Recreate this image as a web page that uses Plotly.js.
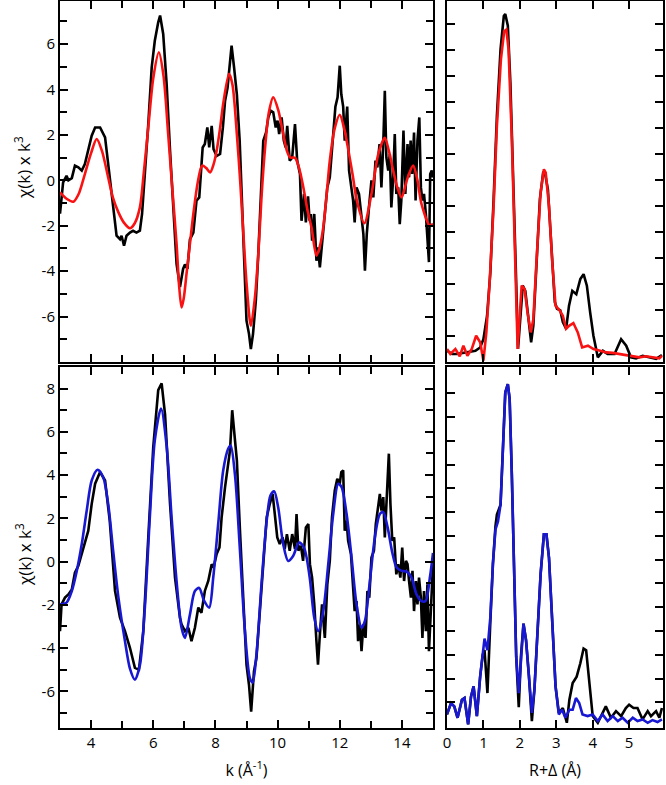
<!DOCTYPE html>
<html>
<head>
<meta charset="utf-8">
<script src="https://cdn.plot.ly/plotly-3.0.1.min.js"></script>
<style>html,body{margin:0;padding:0;background:#fff;}#chart{width:666px;height:785px;}</style>
</head>
<body>
<div id="chart"></div>
<script>
// ---------- Data: k-space, top panel (experiment = black, fit = red) ----------
const kTopExp = [3.0,3.05,3.1,3.21,3.27,3.38,3.48,3.59,3.7,3.8,3.91,4.02,4.13,4.29,4.45,4.6,4.71,4.82,4.93,4.98,5.06,5.14,5.25,5.35,5.46,5.57,5.64,5.73,5.84,5.95,6.05,6.16,6.22,6.32,6.43,6.54,6.65,6.75,6.86,6.96,7.02,7.1,7.18,7.29,7.39,7.48,7.59,7.66,7.74,7.8,7.88,7.94,8.04,8.15,8.24,8.31,8.39,8.47,8.52,8.6,8.69,8.78,8.85,8.93,9.0,9.08,9.14,9.21,9.3,9.38,9.45,9.54,9.63,9.7,9.78,9.86,9.94,10.0,10.05,10.13,10.2,10.26,10.31,10.39,10.47,10.56,10.63,10.72,10.77,10.85,10.91,10.98,11.03,11.07,11.11,11.18,11.25,11.3,11.36,11.43,11.52,11.6,11.68,11.73,11.82,11.86,11.93,12.0,12.05,12.11,12.16,12.24,12.3,12.38,12.43,12.48,12.54,12.62,12.7,12.76,12.81,12.87,12.94,13.02,13.08,13.15,13.21,13.28,13.34,13.4,13.45,13.5,13.56,13.61,13.66,13.72,13.77,13.82,13.88,13.93,13.98,14.05,14.11,14.18,14.23,14.28,14.33,14.39,14.44,14.5,14.56,14.61,14.66,14.71,14.77,14.82,14.87,14.91,14.96,15.0];
const chiTopExp = [-1.47,-0.6,-0.09,0.2,0.0,0.1,0.65,0.57,0.43,0.72,1.31,1.97,2.33,2.33,1.89,0.13,-1.19,-2.44,-2.59,-2.44,-2.88,-2.44,-2.3,-2.22,-2.3,-2.22,-1.48,0.13,2.48,4.98,6.15,6.96,7.26,6.45,4.25,1.31,-1.63,-3.68,-4.7,-3.9,-3.7,-3.9,-2.6,-2.3,-0.9,-0.75,1.45,1.6,2.33,1.45,2.4,1.37,1.08,1.16,2.33,3.5,4.08,5.27,5.93,4.98,3.79,1.75,-0.89,-3.83,-6.18,-6.76,-7.43,-6.76,-5.3,-3.24,-0.89,1.75,2.11,2.77,3.07,3.0,2.33,2.63,2.04,2.77,1.75,1.45,2.4,0.87,1.0,2.48,0.87,0.28,-1.78,-0.6,-1.85,-0.7,-1.78,-1.48,-2.66,-1.48,-3.54,-2.95,-3.83,-2.66,-1.48,-0.31,0.13,1.0,2.33,3.25,3.66,5.05,3.79,3.25,1.75,3.25,0.43,-0.45,-0.89,-1.85,-0.31,-0.6,-1.48,-2.36,-3.98,-2.36,-1.19,0.0,-0.75,0.87,0.57,1.6,-0.31,1.6,3.95,1.0,0.43,1.16,-1.19,0.13,2.04,-0.6,-0.31,-1.93,-0.89,2.19,-0.6,1.6,0.13,1.75,0.28,2.11,-0.89,1.75,2.77,-0.31,-0.89,-0.6,-1.48,-2.66,-3.6,0.28,0.43,0.13];
const kTopFit = [3.0,3.2,3.43,3.6,3.8,4.0,4.18,4.35,4.55,4.7,4.88,5.05,5.25,5.4,5.57,5.7,5.84,6.0,6.18,6.33,6.48,6.62,6.75,6.83,6.91,6.98,7.07,7.18,7.29,7.43,7.57,7.7,7.83,7.94,8.04,8.15,8.25,8.44,8.55,8.69,8.8,8.9,9.0,9.14,9.26,9.38,9.48,9.59,9.72,9.86,10.02,10.18,10.3,10.4,10.56,10.7,10.83,10.96,11.09,11.25,11.36,11.47,11.58,11.68,11.84,12.0,12.14,12.28,12.42,12.55,12.79,13.02,13.24,13.45,13.58,13.72,13.85,13.99,14.18,14.36,14.5,14.63,14.9,15.0];
const chiTopFit = [-0.53,-0.8,-0.94,-0.6,0.28,1.2,1.82,1.3,0.13,-0.75,-1.41,-1.85,-2.11,-1.9,-1.19,0.4,2.33,4.5,5.64,4.6,2.05,-0.5,-2.8,-4.6,-5.6,-5.2,-4.12,-2.8,-1.48,-0.1,0.65,0.55,0.35,0.7,1.31,2.3,3.37,4.69,4.2,2.04,-0.1,-2.36,-4.5,-6.4,-5.3,-3.24,-0.8,1.31,3.0,3.66,3.1,2.04,1.3,1.01,0.99,0.5,-0.31,-1.3,-2.07,-3.32,-2.9,-2.07,-0.6,0.87,2.3,2.89,2.3,1.31,0.2,-0.89,-1.89,-0.6,1.16,1.87,1.3,0.43,-0.3,-0.75,0.1,0.65,0.0,-1.04,-2.0,-1.9];

// ---------- Data: k-space, bottom panel (experiment = black, fit = blue) ----------
const kBotExp = [3.0,3.05,3.16,3.27,3.38,3.48,3.59,3.7,3.8,3.91,4.02,4.13,4.29,4.45,4.6,4.77,4.93,5.09,5.25,5.41,5.54,5.68,5.84,6.0,6.16,6.27,6.38,6.54,6.7,6.86,6.91,7.02,7.13,7.23,7.34,7.45,7.55,7.66,7.77,7.88,7.94,8.04,8.13,8.2,8.31,8.41,8.47,8.54,8.6,8.69,8.79,8.9,9.0,9.08,9.15,9.24,9.32,9.43,9.54,9.65,9.75,9.84,9.91,9.99,10.07,10.16,10.23,10.3,10.39,10.47,10.56,10.61,10.67,10.75,10.82,10.91,10.99,11.04,11.11,11.18,11.25,11.3,11.36,11.43,11.52,11.6,11.68,11.75,11.84,11.92,12.0,12.05,12.11,12.16,12.22,12.27,12.36,12.43,12.48,12.54,12.59,12.65,12.7,12.76,12.83,12.89,12.95,13.02,13.1,13.16,13.24,13.29,13.34,13.4,13.45,13.5,13.58,13.63,13.69,13.75,13.82,13.88,13.95,14.01,14.07,14.13,14.18,14.23,14.29,14.34,14.39,14.45,14.5,14.55,14.61,14.66,14.71,14.77,14.82,14.87,14.93,14.98,15.0];
const chiBotExp = [-3.22,-1.98,-1.67,-1.52,-1.29,-0.51,-0.2,0.35,0.96,1.43,2.67,3.6,4.14,3.75,1.89,-1.36,-2.6,-3.22,-3.99,-4.92,-5.0,-3.22,1.12,5.3,7.93,8.24,6.8,2.67,-0.74,-2.6,-2.9,-3.22,-3.06,-3.68,-3.06,-2.13,-2.37,-1.36,-0.9,-0.12,-0.28,0.35,0.65,2.05,3.44,4.53,5.15,7.0,5.9,4.68,1.43,-1.98,-4.77,-5.7,-6.94,-5.08,-4.46,-2.29,-0.12,2.05,2.67,3.13,2.2,1.12,0.81,1.12,0.58,1.27,0.5,1.27,0.58,2.2,0.5,0.73,0.03,1.58,1.74,-0.12,-0.74,-1.98,-3.68,-4.77,-3.37,-1.98,-3.53,-1.05,0.03,2.05,3.29,3.83,3.6,4.14,4.22,1.43,1.89,0.96,0.35,-1.52,-2.29,-1.83,-3.68,-2.91,-4.15,-2.91,-3.53,-1.36,-1.67,0.19,0.5,1.74,2.51,3.13,2.36,2.98,1.12,2.51,4.99,2.67,0.96,1.12,-0.59,-0.12,-0.74,0.65,-0.9,0.03,-0.12,-0.9,-1.67,-0.43,-2.29,-0.9,-1.98,-0.74,-1.67,-3.53,-1.36,-3.22,-1.05,-4.15,-1.98,-0.74,-0.12];
const kBotFit = [3.0,3.21,3.38,3.54,3.7,3.86,4.02,4.21,4.39,4.55,4.71,4.88,5.09,5.25,5.41,5.57,5.73,5.89,6.05,6.25,6.43,6.59,6.75,6.91,7.02,7.18,7.34,7.48,7.63,7.8,7.93,8.09,8.25,8.41,8.49,8.63,8.79,8.95,9.11,9.2,9.32,9.49,9.65,9.77,9.89,10.02,10.18,10.34,10.5,10.69,10.85,11.03,11.18,11.31,11.47,11.63,11.79,11.95,12.06,12.22,12.38,12.54,12.7,12.81,12.97,13.13,13.29,13.4,13.54,13.69,13.83,13.99,14.15,14.31,14.47,14.63,14.76,14.9,15.0];
const chiBotFit = [-1.98,-1.9,-1.36,-0.43,0.81,2.36,3.75,4.25,3.9,2.67,0.5,-1.67,-3.68,-4.95,-5.46,-4.8,-2.13,2.05,5.61,7.08,5.35,2.05,-0.9,-3.06,-3.53,-2.45,-1.36,-1.22,-1.8,-2.13,-0.74,1.74,4.21,5.22,5.37,4.0,0.5,-3.22,-5.39,-5.6,-4.3,-0.9,1.89,3.05,3.25,2.5,0.81,0.03,0.26,0.88,0.65,-0.7,-2.6,-3.22,-2.29,-0.12,2.2,3.6,3.44,2.2,0.19,-1.98,-3.06,-2.75,-0.9,1.12,2.2,2.28,1.58,0.42,-0.28,-0.43,-0.46,-0.74,-1.52,-1.83,-1.83,-0.74,0.4];

// ---------- Data: R-space magnitudes (arbitrary units) ----------
const rTopExp = [0,0.14,0.27,0.45,0.64,0.78,0.91,1.0,1.1,1.19,1.28,1.37,1.47,1.56,1.6,1.67,1.74,1.83,1.9,1.95,2.01,2.08,2.15,2.22,2.31,2.37,2.46,2.55,2.64,2.68,2.77,2.86,2.96,3.02,3.11,3.18,3.27,3.35,3.44,3.55,3.66,3.75,3.84,3.93,4.02,4.14,4.28,4.41,4.6,4.78,4.92,5.05,5.19,5.37,5.56,5.74,5.9];
const ftTopExp = [0.43,0.31,0.31,0.35,0.38,0.43,0.56,0.88,1.78,3.45,6.27,9.47,12.04,13.32,13.4,12.95,10.76,6.92,3.06,0.5,1.78,2.94,2.74,1.78,0.76,1.4,3.71,6.27,7.29,7.35,6.65,4.35,2.3,2.05,1.99,1.54,1.28,2.17,2.74,2.61,3.19,3.38,2.94,1.91,1.01,0.18,0.43,0.31,0.31,0.88,0.63,0.18,0.14,0.24,0.18,0.12,0.27];
const rTopFit = [0,0.09,0.23,0.35,0.45,0.56,0.68,0.8,0.91,1.0,1.08,1.17,1.28,1.37,1.48,1.57,1.63,1.69,1.78,1.87,1.94,1.99,2.05,2.13,2.21,2.3,2.37,2.46,2.57,2.66,2.71,2.8,2.89,2.98,3.09,3.18,3.27,3.36,3.47,3.59,3.71,3.87,4.02,4.18,4.37,4.55,4.73,4.92,5.1,5.28,5.46,5.65,5.83,5.9];
const ftTopFit = [0.5,0.31,0.5,0.22,0.63,0.24,0.5,1.01,0.76,0.05,1.14,3.06,6.01,9.09,11.65,12.74,12.8,12.04,8.58,4.35,0.5,1.65,2.94,2.81,1.91,1.14,1.65,3.96,6.53,7.42,7.29,6.01,3.83,2.17,1.99,1.78,1.28,1.4,1.5,1.14,0.56,0.63,0.5,0.44,0.37,0.35,0.31,0.27,0.24,0.18,0.22,0.18,0.14,0.24];

const rBotExp = [0,0.11,0.2,0.29,0.41,0.48,0.58,0.66,0.73,0.82,0.91,0.98,1.03,1.11,1.19,1.26,1.33,1.37,1.47,1.54,1.6,1.67,1.72,1.78,1.85,1.9,1.97,2.03,2.1,2.17,2.25,2.33,2.4,2.48,2.57,2.66,2.73,2.8,2.89,2.98,3.07,3.18,3.29,3.36,3.45,3.56,3.66,3.75,3.82,3.91,4.0,4.14,4.27,4.36,4.5,4.64,4.78,4.91,5.0,5.12,5.23,5.37,5.51,5.6,5.74,5.83,5.9];
const ftBotExp = [0.49,0.97,0.83,0.35,1.11,1.18,0.07,1.25,1.67,0.42,2.08,3.0,3.2,1.39,4.4,6.81,8.4,8.89,9.31,11.8,14.03,14.38,13.75,10.56,6.39,2.92,0.8,2.92,4.31,3.61,2.08,0.21,1.53,4.03,6.39,8.06,8.06,7.08,4.03,1.67,0.56,0.76,0.14,1.11,1.81,2.08,2.64,3.26,3.19,1.81,0.42,0.14,0.56,0.83,0.35,0.63,0.42,0.76,0.9,0.76,0.76,0.28,0.63,0.42,0.63,0.35,0.76];
const rBotFit = [0,0.11,0.2,0.29,0.41,0.48,0.58,0.66,0.73,0.82,0.91,0.98,1.03,1.11,1.19,1.26,1.33,1.4,1.47,1.54,1.6,1.67,1.72,1.78,1.85,1.9,1.97,2.03,2.1,2.17,2.25,2.33,2.4,2.48,2.57,2.66,2.73,2.8,2.89,2.98,3.07,3.16,3.25,3.36,3.45,3.54,3.63,3.72,3.86,4.0,4.14,4.27,4.41,4.55,4.69,4.82,4.96,5.1,5.23,5.37,5.51,5.64,5.78,5.9];
const ftBotFit = [0.49,0.97,0.83,0.35,1.11,1.18,0.07,1.25,1.67,0.42,2.08,3.19,3.68,3.19,4.58,6.81,8.26,8.61,9.31,11.8,14.03,14.38,13.75,10.56,6.39,2.92,1.39,2.92,4.31,3.61,2.08,0.56,1.53,4.03,6.39,8.06,8.06,7.08,4.03,1.67,0.49,0.69,0.35,0.69,0.69,1.18,0.97,0.49,0.42,0.49,0.21,0.49,0.21,0.42,0.21,0.35,0.14,0.35,0.21,0.28,0.14,0.25,0.17,0.28];

// ---------- Tick positions and labels ----------
const kTickVals = [4,6,8,10,12,14];
const kTickText = ['4','6','8','10','12','14'];
const kMinorVals = [3,5,7,9,11,13,15];
const chiTopTickVals = [-6,-4,-2,0,2,4,6];
const chiTopTickText = ['-6','-4','-2','0','2','4','6'];
const chiTopMinorVals = [-7,-5,-3,-1,1,3,5,7];
const chiBotTickVals = [-6,-4,-2,0,2,4,6,8];
const chiBotTickText = ['-6','-4','-2','0','2','4','6','8'];
const chiBotMinorVals = [-7,-5,-3,-1,1,3,5,7];
const rTickVals = [0,1,2,3,4,5];
const rTickText = ['0','1','2','3','4','5'];
const ftTopTickVals = [1,2,3,4,5,6,7,8,9,10,11,12,13];
const ftBotTickVals = [1,2,3,4,5,6,7,8,9,10,11,12,13,14];

const yTitle = 'χ(k) x k<sup>3</sup>';
const kTitle = 'k (Å<sup>-1</sup>)';
const rTitle = 'R+Δ (Å)';

const BLACK = '#000000', RED = '#fa1212', BLUE = '#1818d2';
const FONT = 'Open Sans, DejaVu Sans, sans-serif';

function line(x, y, color, xa, ya, smooth) {
  return {x: x, y: y, xaxis: xa, yaxis: ya, type: 'scatter', mode: 'lines',
    line: {color: color, width: 2.6, shape: smooth ? 'spline' : 'linear', smoothing: 0.8},
    hoverinfo: 'skip', showlegend: false};
}

const data = [
  line(kTopExp, chiTopExp, BLACK, 'x', 'y', false),
  line(kTopFit, chiTopFit, RED, 'x', 'y', true),
  line(rTopExp, ftTopExp, BLACK, 'x2', 'y2', false),
  line(rTopFit, ftTopFit, RED, 'x2', 'y2', false),
  line(kBotExp, chiBotExp, BLACK, 'x3', 'y3', false),
  line(kBotFit, chiBotFit, BLUE, 'x3', 'y3', true),
  line(rBotExp, ftBotExp, BLACK, 'x4', 'y4', false),
  line(rBotFit, ftBotFit, BLUE, 'x4', 'y4', false)
];

const W = 666, H = 785;
const xdL = [60/W, 433/W], xdR = [447/W, 663/W];
const ydT = [(H-362)/H, (H-1)/H], ydB = [(H-728)/H, (H-367)/H];

function ax(extra) {
  return Object.assign({
    showline: true, linecolor: '#000', linewidth: 2, mirror: 'ticks',
    ticks: 'inside', ticklen: 8, tickwidth: 2, tickcolor: '#000',
    showgrid: false, zeroline: false, fixedrange: true,
    tickfont: {family: FONT, size: 15, color: '#000'}
  }, extra);
}
function minor(vals) {
  return {tickmode: 'array', tickvals: vals, ticks: 'inside', ticklen: 7, tickwidth: 2, tickcolor: '#000', showgrid: false};
}

const layout = {
  width: W, height: H,
  margin: {l: 0, r: 0, t: 0, b: 0},
  paper_bgcolor: '#fff', plot_bgcolor: '#fff',
  font: {family: FONT, color: '#000'},
  showlegend: false,
  xaxis: ax({domain: xdL, anchor: 'y', range: [3, 15], tickmode: 'array', tickvals: kTickVals,
    minor: minor(kMinorVals), showticklabels: false}),
  yaxis: ax({domain: ydT, anchor: 'x', range: [-8, 7.9], tickmode: 'array', tickvals: chiTopTickVals, ticktext: chiTopTickText,
    minor: minor(chiTopMinorVals)}),
  xaxis2: ax({domain: xdR, anchor: 'y2', range: [0, 5.93], tickmode: 'array', tickvals: rTickVals, showticklabels: false}),
  yaxis2: ax({domain: ydT, anchor: 'x2', range: [0, 13.9], tickmode: 'array', tickvals: ftTopTickVals, showticklabels: false}),
  xaxis3: ax({domain: xdL, anchor: 'y3', range: [3, 15], tickmode: 'array', tickvals: kTickVals, ticktext: kTickText,
    minor: minor(kMinorVals),
    title: {text: kTitle, font: {family: FONT, size: 16}, standoff: 14}}),
  yaxis3: ax({domain: ydB, anchor: 'x3', range: [-7.7, 9], tickmode: 'array', tickvals: chiBotTickVals, ticktext: chiBotTickText,
    minor: minor(chiBotMinorVals)}),
  xaxis4: ax({domain: xdR, anchor: 'y4', range: [0, 5.93], tickmode: 'array', tickvals: rTickVals, ticktext: rTickText,
    title: {text: rTitle, font: {family: FONT, size: 16}, standoff: 14}}),
  yaxis4: ax({domain: ydB, anchor: 'x4', range: [-0.08, 15.1], tickmode: 'array', tickvals: ftBotTickVals, showticklabels: false}),
  annotations: [
    {text: yTitle, xref: 'paper', yref: 'paper', x: 23/W, y: (H-168)/H, xanchor: 'center', yanchor: 'middle',
     textangle: -90, showarrow: false, font: {family: FONT, size: 17, color: '#000'}},
    {text: yTitle, xref: 'paper', yref: 'paper', x: 23/W, y: (H-555)/H, xanchor: 'center', yanchor: 'middle',
     textangle: -90, showarrow: false, font: {family: FONT, size: 17, color: '#000'}}
  ]
};

Plotly.newPlot('chart', data, layout, {staticPlot: true, displayModeBar: false});
</script>
</body>
</html>
